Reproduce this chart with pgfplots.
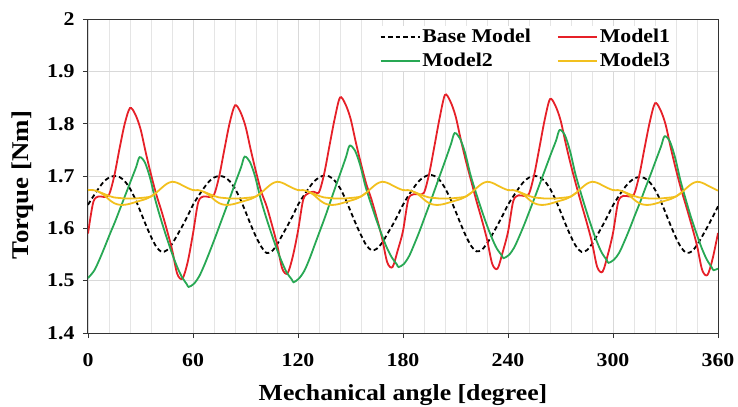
\documentclass[border=0pt]{standalone}
\usepackage{pgfplots}
\pgfplotsset{compat=1.18}
\usepackage{fontspec}
\setmainfont{Liberation Serif}[FakeStretch=1.12]
\definecolor{mred}{RGB}{230,32,40}
\definecolor{mgreen}{RGB}{40,168,84}
\definecolor{myellow}{RGB}{242,192,30}
\begin{document}
\begin{tikzpicture}
\useasboundingbox (-88bp,-74bp) rectangle (650bp,333bp);
\begin{axis}[
  at={(0,0)}, anchor=south west,
  scale only axis, width=630bp, height=314bp,
  xmin=0, xmax=360, ymin=1.4, ymax=2,
  xtick={0,60,...,360}, ytick={1.4,1.5,...,2.0},
  minor x tick num=4,
  grid=both,
  major grid style={gray!30, line width=0.7bp},
  minor grid style={gray!20, line width=0.7bp},
  tick align=outside, xtick pos=bottom, ytick pos=left,
  major tick length=5bp, minor tick length=0pt,
  tick style={black!80, line width=0.8bp},
  axis line style={black!80, line width=1bp},
  /pgf/number format/assume math mode=true,
  ticklabel style={font=\fontsize{19.5bp}{22bp}\selectfont\bfseries},
  yticklabel style={/pgf/number format/fixed, /pgf/number format/precision=1, xshift=-5bp},
  xticklabel style={yshift=-12bp},
  xlabel={Mechanical angle [degree]},
  xlabel style={at={(axis description cs:0.5,-0.216)}, anchor=base, font=\fontsize{23bp}{26bp}\selectfont\bfseries},
  ylabel={Torque [Nm]},
  ylabel style={at={(axis description cs:-0.103,0.471)}, anchor=center, font=\fontsize{24bp}{26bp}\selectfont\bfseries},
  legend columns=2,
  legend cell align=left,
  legend style={at={(0.461,0.978)}, anchor=north west, draw=none, fill=white,
    font=\fontsize{19.5bp}{22bp}\selectfont\bfseries,
    /tikz/every even column/.append style={column sep=24bp},
    row sep=5bp, inner sep=1bp},
  legend image code/.code={\draw[#1, line width=1.8bp] plot coordinates {(0bp,0bp) (39bp,0bp)};},
]
% Base Model
\addplot[black, line width=1.8bp, dash pattern=on 4.5bp off 3bp, smooth] coordinates {
(0,1.645)(3,1.661)(6,1.676)(9,1.689)(12,1.697)(15,1.700)(18,1.698)(21,1.690)(24,1.676)(27,1.656)(30,1.632)(33,1.607)(36,1.584)(39,1.565)(42,1.555)(45,1.558)(48,1.570)(51,1.587)(54,1.605)(57,1.624)
(60,1.645)(63,1.661)(66,1.676)(69,1.689)(72,1.697)(75,1.700)(78,1.698)(81,1.690)(84,1.676)(87,1.656)(90,1.632)(93,1.607)(96,1.584)(99,1.565)(102,1.553)(105,1.556)(108,1.569)(111,1.587)(114,1.605)(117,1.624)
(120,1.645)(123,1.661)(126,1.676)(129,1.689)(132,1.697)(135,1.701)(138,1.699)(141,1.691)(144,1.677)(147,1.657)(150,1.633)(153,1.609)(156,1.587)(159,1.568)(162,1.558)(165,1.561)(168,1.572)(171,1.589)(174,1.606)(177,1.625)
(180,1.645)(183,1.662)(186,1.677)(189,1.690)(192,1.698)(195,1.702)(198,1.700)(201,1.692)(204,1.677)(207,1.657)(210,1.633)(213,1.608)(216,1.585)(219,1.566)(222,1.556)(225,1.559)(228,1.571)(231,1.588)(234,1.606)(237,1.625)
(240,1.645)(243,1.661)(246,1.676)(249,1.689)(252,1.697)(255,1.700)(258,1.698)(261,1.690)(264,1.676)(267,1.656)(270,1.632)(273,1.607)(276,1.584)(279,1.565)(282,1.555)(285,1.558)(288,1.570)(291,1.587)(294,1.605)(297,1.624)
(300,1.644)(303,1.660)(306,1.675)(309,1.687)(312,1.695)(315,1.698)(318,1.696)(321,1.688)(324,1.674)(327,1.654)(330,1.630)(333,1.605)(336,1.582)(339,1.563)(342,1.553)(345,1.556)(348,1.568)(351,1.585)(354,1.603)(357,1.622)(360,1.642)
};
\addlegendentry{Base Model}
% Model1
\addplot[mred, line width=1.8bp, smooth] coordinates {
(0,1.590)(3,1.650)(6,1.661)(9,1.660)(12,1.664)(15,1.700)(18,1.752)(21,1.800)(24,1.830)(27,1.818)(30,1.790)(33,1.745)(36,1.703)(39,1.665)(42,1.633)(45,1.598)(48,1.560)(51,1.513)(54,1.504)(57,1.536)
(60,1.590)(63,1.650)(66,1.661)(69,1.660)(72,1.664)(75,1.700)(78,1.752)(81,1.802)(84,1.835)(87,1.823)(90,1.795)(93,1.750)(96,1.708)(99,1.670)(102,1.643)(105,1.608)(108,1.570)(111,1.523)(114,1.514)(117,1.546)
(120,1.595)(123,1.655)(126,1.667)(129,1.670)(132,1.669)(135,1.705)(138,1.758)(141,1.810)(144,1.850)(147,1.838)(150,1.810)(153,1.765)(156,1.723)(159,1.685)(162,1.655)(165,1.620)(168,1.582)(171,1.535)(174,1.526)(177,1.558)
(180,1.595)(183,1.655)(186,1.665)(189,1.665)(192,1.668)(195,1.705)(198,1.758)(201,1.812)(204,1.855)(207,1.843)(210,1.815)(213,1.770)(216,1.728)(219,1.690)(222,1.652)(225,1.617)(228,1.579)(231,1.532)(234,1.523)(237,1.555)
(240,1.593)(243,1.652)(246,1.663)(249,1.662)(252,1.666)(255,1.703)(258,1.755)(261,1.808)(264,1.847)(267,1.835)(270,1.807)(273,1.762)(276,1.720)(279,1.682)(282,1.646)(285,1.611)(288,1.573)(291,1.526)(294,1.517)(297,1.549)
(300,1.591)(303,1.651)(306,1.662)(309,1.661)(312,1.665)(315,1.701)(318,1.753)(321,1.803)(324,1.839)(327,1.827)(330,1.799)(333,1.754)(336,1.712)(339,1.674)(342,1.640)(345,1.605)(348,1.567)(351,1.520)(354,1.511)(357,1.543)(360,1.591)
};
\addlegendentry{Model1}
% Model2
\addplot[mgreen, line width=1.8bp, smooth] coordinates {
(0,1.505)(3.5,1.519)(6.5,1.540)(9.5,1.564)(12.5,1.589)(15.5,1.613)(18.5,1.639)(21.5,1.665)(24.5,1.691)(27.5,1.717)(29.5,1.736)(32.5,1.726)(35.5,1.696)(38.5,1.654)(41.5,1.619)(44.5,1.587)(47.5,1.557)(50.5,1.530)(53.5,1.508)(56.5,1.493)(57.5,1.488)
(60.5,1.494)(63.5,1.508)(66.5,1.530)(69.5,1.555)(72.5,1.581)(75.5,1.608)(78.5,1.635)(81.5,1.662)(84.5,1.690)(87.5,1.717)(89.5,1.737)(92.5,1.727)(95.5,1.699)(98.5,1.658)(101.5,1.624)(104.5,1.593)(107.5,1.564)(110.5,1.538)(113.5,1.516)(116.5,1.502)(117.5,1.497)
(120.5,1.504)(123.5,1.518)(126.5,1.541)(129.5,1.568)(132.5,1.595)(135.5,1.622)(138.5,1.651)(141.5,1.680)(144.5,1.708)(147.5,1.737)(149.5,1.758)(152.5,1.749)(155.5,1.721)(158.5,1.681)(161.5,1.649)(164.5,1.619)(167.5,1.591)(170.5,1.565)(173.5,1.545)(176.5,1.531)(177.5,1.526)
(180.5,1.532)(183.5,1.547)(186.5,1.570)(189.5,1.595)(192.5,1.622)(195.5,1.649)(198.5,1.677)(201.5,1.705)(204.5,1.733)(207.5,1.762)(209.5,1.782)(212.5,1.772)(215.5,1.744)(218.5,1.703)(221.5,1.670)(224.5,1.639)(227.5,1.610)(230.5,1.584)(233.5,1.562)(236.5,1.548)(237.5,1.543)
(240.5,1.549)(243.5,1.563)(246.5,1.585)(249.5,1.609)(252.5,1.635)(255.5,1.661)(258.5,1.688)(261.5,1.715)(264.5,1.742)(267.5,1.768)(269.5,1.788)(272.5,1.778)(275.5,1.747)(278.5,1.704)(281.5,1.669)(284.5,1.636)(287.5,1.605)(290.5,1.577)(293.5,1.554)(296.5,1.539)(297.5,1.534)
(300.5,1.540)(303.5,1.553)(306.5,1.575)(309.5,1.599)(312.5,1.625)(315.5,1.650)(318.5,1.677)(321.5,1.703)(324.5,1.730)(327.5,1.757)(329.5,1.776)(332.5,1.766)(335.5,1.735)(338.5,1.692)(341.5,1.656)(344.5,1.622)(347.5,1.592)(350.5,1.564)(353.5,1.541)(356.5,1.525)(357.5,1.520)(360,1.523)
};
\addlegendentry{Model2}
% Model3
\addplot[myellow, line width=1.8bp, smooth] coordinates {
(0,1.673)(3,1.673)(6,1.670)(9,1.664)(12,1.655)(15,1.648)(18,1.645)(21,1.645)(24,1.647)(27,1.650)(30,1.653)(33,1.656)(36,1.661)(39,1.668)(42,1.677)(45,1.685)(48,1.689)(51,1.687)(54,1.682)(57,1.677)
(60,1.673)(63,1.673)(66,1.670)(69,1.664)(72,1.655)(75,1.648)(78,1.645)(81,1.645)(84,1.647)(87,1.650)(90,1.653)(93,1.656)(96,1.661)(99,1.668)(102,1.677)(105,1.685)(108,1.689)(111,1.687)(114,1.682)(117,1.677)
(120,1.673)(123,1.673)(126,1.670)(129,1.664)(132,1.655)(135,1.648)(138,1.645)(141,1.645)(144,1.647)(147,1.650)(150,1.653)(153,1.656)(156,1.661)(159,1.668)(162,1.677)(165,1.685)(168,1.689)(171,1.687)(174,1.682)(177,1.677)
(180,1.673)(183,1.673)(186,1.670)(189,1.664)(192,1.655)(195,1.648)(198,1.645)(201,1.645)(204,1.647)(207,1.650)(210,1.653)(213,1.656)(216,1.661)(219,1.668)(222,1.677)(225,1.685)(228,1.689)(231,1.687)(234,1.682)(237,1.677)
(240,1.673)(243,1.673)(246,1.670)(249,1.664)(252,1.655)(255,1.648)(258,1.645)(261,1.645)(264,1.647)(267,1.650)(270,1.653)(273,1.656)(276,1.661)(279,1.668)(282,1.677)(285,1.685)(288,1.689)(291,1.687)(294,1.682)(297,1.677)
(300,1.673)(303,1.673)(306,1.670)(309,1.664)(312,1.655)(315,1.648)(318,1.645)(321,1.645)(324,1.647)(327,1.650)(330,1.653)(333,1.656)(336,1.661)(339,1.668)(342,1.677)(345,1.685)(348,1.689)(351,1.687)(354,1.682)(357,1.677)(360,1.672)
};
\addlegendentry{Model3}
\addplot[myellow, line width=1.8bp, smooth, forget plot] coordinates {(6,1.670)(9,1.666)(12,1.662)(15,1.659)(18,1.658)(21,1.657)(24,1.657)(27,1.657)(30,1.658)(33,1.659)(36,1.661)(39,1.668)};
\addplot[myellow, line width=1.8bp, smooth, forget plot] coordinates {(66,1.670)(69,1.666)(72,1.662)(75,1.659)(78,1.658)(81,1.657)(84,1.657)(87,1.657)(90,1.658)(93,1.659)(96,1.661)(99,1.668)};
\addplot[myellow, line width=1.8bp, smooth, forget plot] coordinates {(126,1.670)(129,1.666)(132,1.662)(135,1.659)(138,1.658)(141,1.657)(144,1.657)(147,1.657)(150,1.658)(153,1.659)(156,1.661)(159,1.668)};
\addplot[myellow, line width=1.8bp, smooth, forget plot] coordinates {(186,1.670)(189,1.666)(192,1.662)(195,1.659)(198,1.658)(201,1.657)(204,1.657)(207,1.657)(210,1.658)(213,1.659)(216,1.661)(219,1.668)};
\addplot[myellow, line width=1.8bp, smooth, forget plot] coordinates {(246,1.670)(249,1.666)(252,1.662)(255,1.659)(258,1.658)(261,1.657)(264,1.657)(267,1.657)(270,1.658)(273,1.659)(276,1.661)(279,1.668)};
\addplot[myellow, line width=1.8bp, smooth, forget plot] coordinates {(306,1.670)(309,1.666)(312,1.662)(315,1.659)(318,1.658)(321,1.657)(324,1.657)(327,1.657)(330,1.658)(333,1.659)(336,1.661)(339,1.668)};
\end{axis}
\end{tikzpicture}
\end{document}
